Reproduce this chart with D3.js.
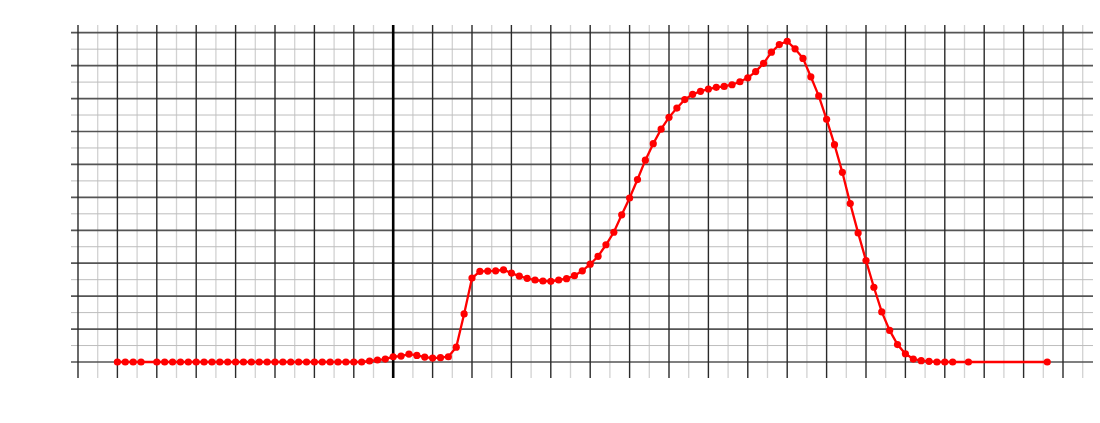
<!DOCTYPE html>
<html>
<head>
<meta charset="utf-8">
<script src="https://cdn.jsdelivr.net/npm/d3@7"></script>
<style>
  html, body { margin: 0; padding: 0; background: #fff; }
  svg { display: block; }
</style>
</head>
<body>
<script>
// ---- data ----
const xValues = [-7, -6.8, -6.6, -6.4, -6.0, -5.8, -5.6, -5.4, -5.2, -5.0, -4.8, -4.6, -4.4, -4.2, -4.0,
  -3.8, -3.6, -3.4, -3.2, -3.0, -2.8, -2.6, -2.4, -2.2, -2.0, -1.8, -1.6, -1.4, -1.2, -1.0, -0.8, -0.6,
  -0.4, -0.2, 0, 0.2, 0.4, 0.6, 0.8, 1.0, 1.2, 1.4, 1.6, 1.8, 2.0, 2.2, 2.4, 2.6, 2.8, 3.0, 3.2, 3.4,
  3.6, 3.8, 4.0, 4.2, 4.4, 4.6, 4.8, 5.0, 5.2, 5.4, 5.6, 5.8, 6.0, 6.2, 6.4, 6.6, 6.8, 7.0, 7.2, 7.4,
  7.6, 7.8, 8.0, 8.2, 8.4, 8.6, 8.8, 9.0, 9.2, 9.4, 9.6, 9.8, 10.0, 10.2, 10.4, 10.6, 10.8, 11.0, 11.2,
  11.4, 11.6, 11.8, 12.0, 12.2, 12.4, 12.6, 12.8, 13.0, 13.2, 13.4, 13.6, 13.8, 14.0, 14.2, 14.6, 16.6];
const yValues = [0, 0, 0, 0, 0, 0, 0, 0, 0, 0, 0, 0, 0, 0, 0,
  0, 0, 0, 0, 0, 0, 0, 0, 0, 0, 0, 0, 0, 0, 0, 0, 0.03,
  0.06, 0.09, 0.16, 0.18, 0.24, 0.20, 0.15, 0.12, 0.13, 0.16, 0.45, 1.46, 2.55, 2.75, 2.76, 2.77, 2.80, 2.70, 2.61, 2.54,
  2.49, 2.46, 2.45, 2.49, 2.53, 2.62, 2.77, 2.97, 3.21, 3.56, 3.94, 4.47, 4.98, 5.54, 6.13, 6.63, 7.07, 7.43, 7.71, 7.97,
  8.13, 8.22, 8.29, 8.34, 8.37, 8.42, 8.51, 8.63, 8.82, 9.07, 9.41, 9.64, 9.74, 9.51, 9.22, 8.66, 8.08, 7.37, 6.60,
  5.76, 4.81, 3.92, 3.08, 2.27, 1.52, 0.96, 0.53, 0.25, 0.09, 0.04, 0.02, 0, 0, 0, 0, 0];
const xMajorTicks = [-8, -7, -6, -5, -4, -3, -2, -1, 0, 1, 2, 3, 4, 5, 6, 7, 8, 9, 10, 11, 12, 13, 14, 15, 16, 17];
const xMinorTicks = [-7.5, -6.5, -5.5, -4.5, -3.5, -2.5, -1.5, -0.5, 0.5, 1.5, 2.5, 3.5, 4.5, 5.5, 6.5, 7.5, 8.5, 9.5,
  10.5, 11.5, 12.5, 13.5, 14.5, 15.5, 16.5, 17.5];
const yMajorTicks = [0, 1, 2, 3, 4, 5, 6, 7, 8, 9, 10];
const yMinorTicks = [0.5, 1.5, 2.5, 3.5, 4.5, 5.5, 6.5, 7.5, 8.5, 9.5];

const W = 1100, H = 423;
const svg = d3.select("body").append("svg").attr("width", W).attr("height", H);
svg.append("rect").attr("width", W).attr("height", H).attr("fill", "#fff");

// scales: x(-8)=78, x(0)=393.2 ; y(0)=362, y(10)=32.7
const x = d3.scaleLinear().domain([-8, 0]).range([78, 393.2]);
const y = d3.scaleLinear().domain([0, 10]).range([362, 32.7]);

const xLeft = x.invert(71), xRight = x.invert(1093);
const yBottom = y.invert(378), yTop = y.invert(25);

const g = svg.append("g");

// minor grid
g.selectAll("line.vmin").data(xMinorTicks).join("line")
  .attr("x1", d => x(d)).attr("x2", d => x(d))
  .attr("y1", y(yTop)).attr("y2", y(yBottom))
  .attr("stroke", "#d2d2d2").attr("stroke-width", 1.3);
g.selectAll("line.hmin").data(yMinorTicks).join("line")
  .attr("y1", d => y(d)).attr("y2", d => y(d))
  .attr("x1", x(xLeft)).attr("x2", x(xRight))
  .attr("stroke", "#bdbdbd").attr("stroke-width", 1);

// major grid
g.selectAll("line.hmaj").data(yMajorTicks).join("line")
  .attr("y1", d => y(d)).attr("y2", d => y(d))
  .attr("x1", x(xLeft)).attr("x2", x(xRight))
  .attr("stroke", "#555").attr("stroke-width", 1.7);
g.selectAll("line.vmaj").data(xMajorTicks).join("line")
  .attr("x1", d => x(d)).attr("x2", d => x(d))
  .attr("y1", y(yTop)).attr("y2", y(yBottom))
  .attr("stroke", d => d === 0 ? "#000" : "#2a2a2a")
  .attr("stroke-width", d => d === 0 ? 2.6 : 1.4);

// data
const pts = xValues.map((v, i) => [v, yValues[i]]);
const line = d3.line().x(d => x(d[0])).y(d => y(d[1]));
svg.append("path").datum(pts).attr("d", line)
  .attr("fill", "none").attr("stroke", "#ff0000").attr("stroke-width", 2.3);
svg.selectAll("circle.pt").data(pts).join("circle")
  .attr("cx", d => x(d[0])).attr("cy", d => y(d[1])).attr("r", 3.6)
  .attr("fill", "#ff0000");
</script>
</body>
</html>
